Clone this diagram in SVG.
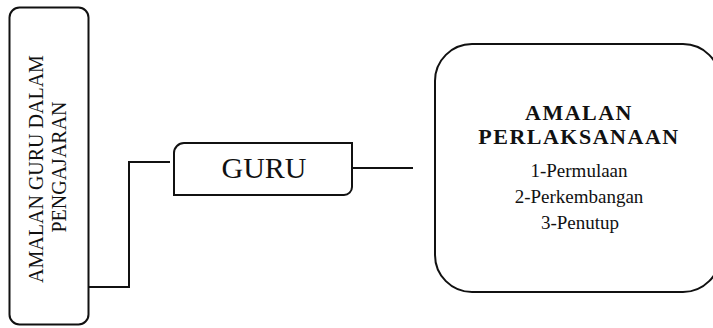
<svg xmlns="http://www.w3.org/2000/svg" width="713" height="328" viewBox="0 0 713 328">
<style>
.box{fill:#fff;stroke:#111;stroke-width:2}
.conn{fill:none;stroke:#111;stroke-width:2}
.t{font-family:"Liberation Serif","Times New Roman",serif;fill:#111;text-anchor:middle}
.h{font-size:22px;font-weight:bold;letter-spacing:1.5px}
</style>
<rect width="713" height="328" fill="#fff"/>
<g id="connectors">
<polyline class="conn" points="88,287 129,287 129,162 170,162"/>
<line class="conn" x1="352" y1="168" x2="413" y2="168"/>
</g>
<g id="node-amalan-guru">
<rect class="box" x="9.5" y="7.5" width="79" height="317" rx="10"/>
<text class="t" font-size="20" transform="translate(43,169) rotate(-90)" x="0" y="0">AMALAN GURU DALAM</text>
<text class="t" font-size="20" transform="translate(66,167) rotate(-90)" x="0" y="0">PENGAJARAN</text>
</g>
<g id="node-guru">
<path class="box" d="M174,195 V153 A10,10 0 0 1 184,143 H352 V187 A8,8 0 0 1 344,195 Z"/>
<text class="t" font-size="30" x="264" y="178">GURU</text>
</g>
<g id="node-perlaksanaan">
<rect class="box" x="435" y="44" width="285" height="248" rx="37"/>
<text class="t h" x="579" y="120">AMALAN</text>
<text class="t h" x="579" y="144">PERLAKSANAAN</text>
<text class="t" font-size="19" x="579" y="177">1-Permulaan</text>
<text class="t" font-size="19" x="579" y="203">2-Perkembangan</text>
<text class="t" font-size="19" x="580" y="229">3-Penutup</text>
</g>
</svg>
